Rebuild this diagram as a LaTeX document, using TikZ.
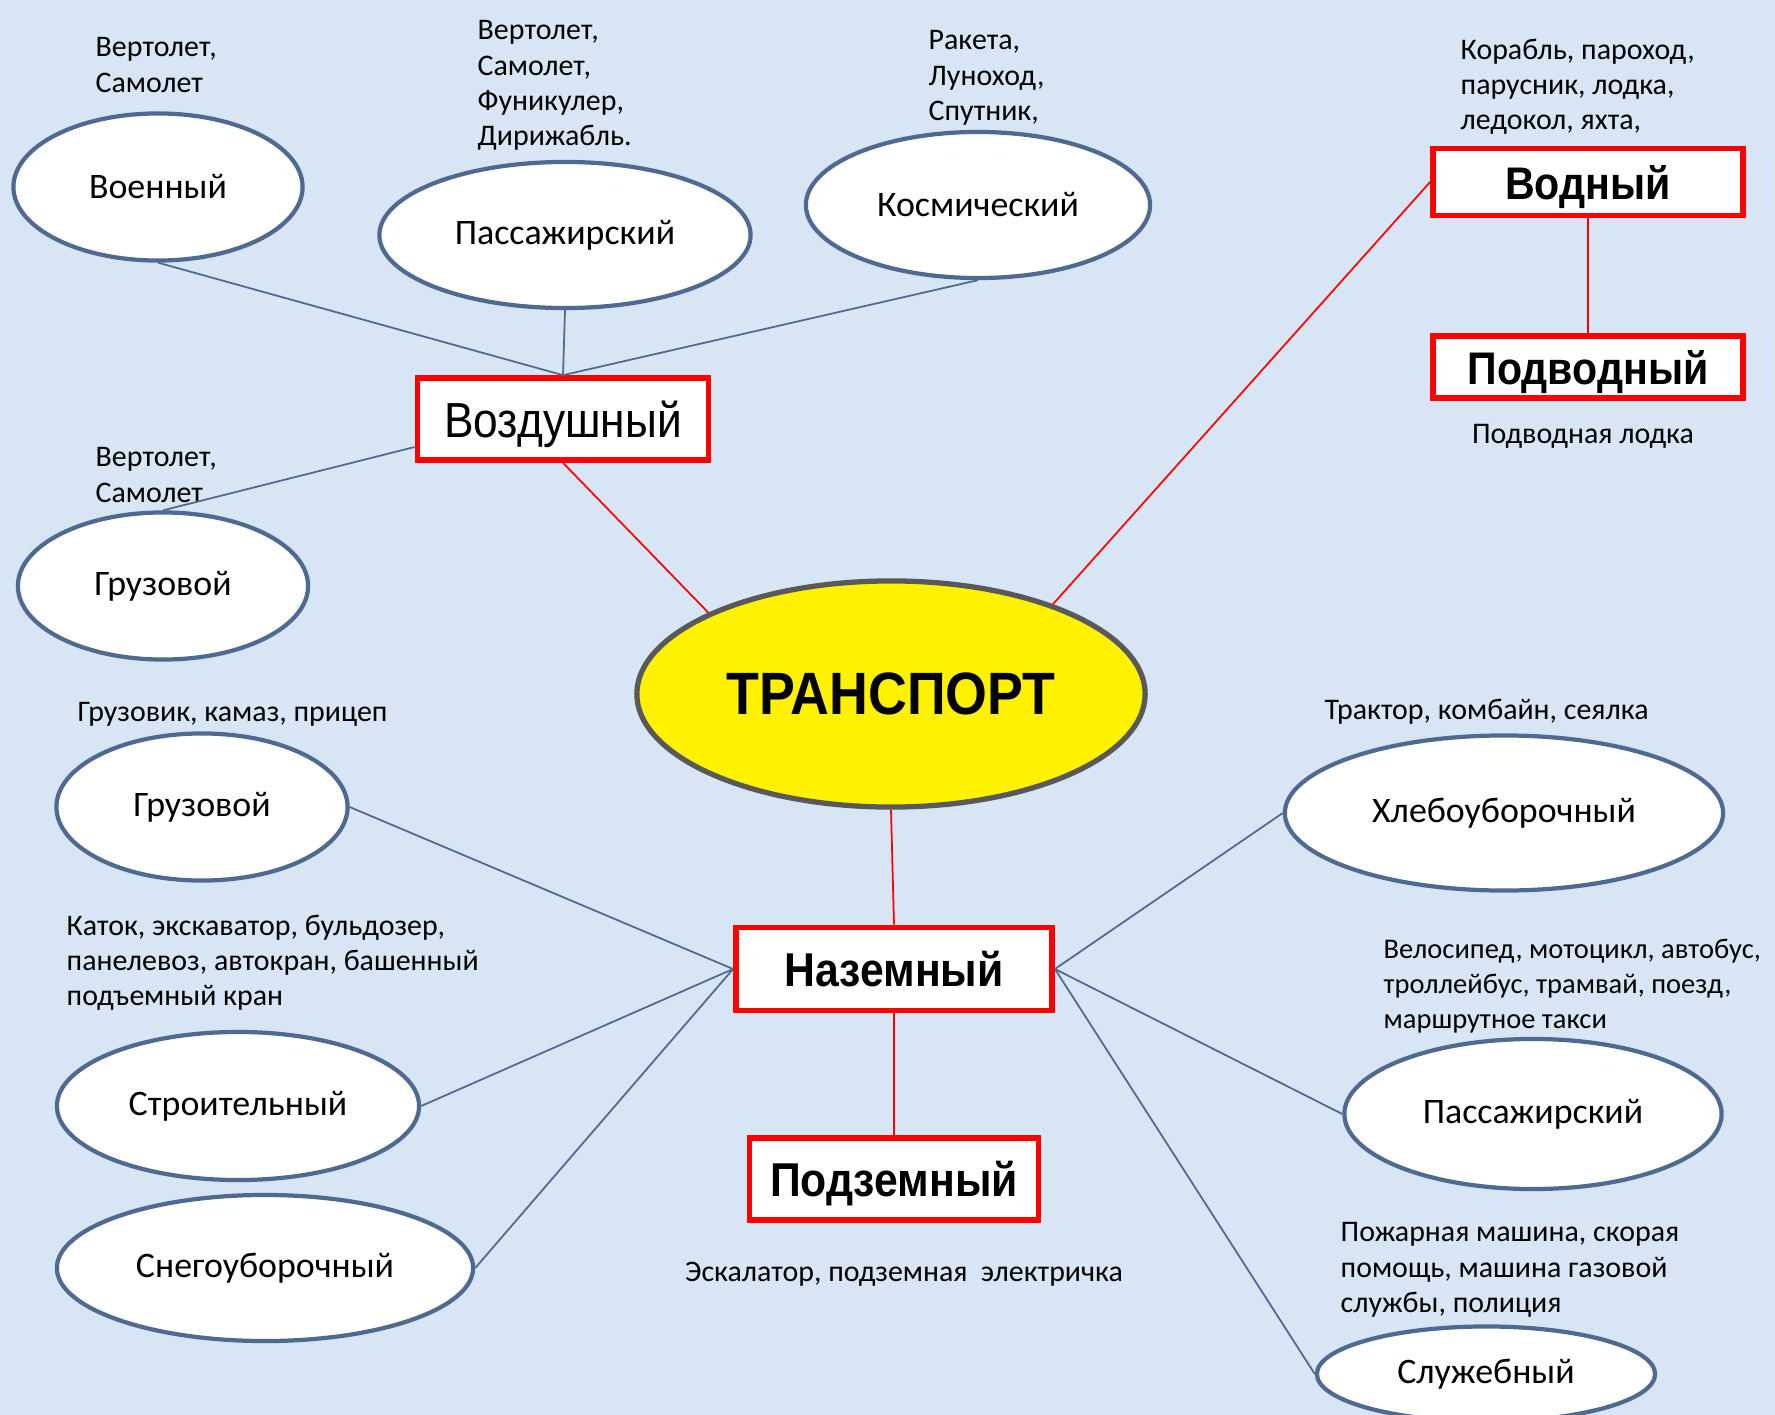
\documentclass[tikz,border=0pt]{standalone}
\usepackage{fontspec}
\setmainfont{Carlito}
\newfontfamily\boxfont[FakeStretch=0.9]{Liberation Sans}
\usetikzlibrary{shapes.geometric}

\definecolor{bgblue}{RGB}{215,229,244}
\definecolor{slate}{RGB}{79,106,145}
\definecolor{rimgray}{RGB}{89,89,89}

\tikzset{
  kind/.style={ellipse, draw=slate, line width=1.2pt, fill=white, inner sep=0pt,
    font=\fontsize{10.2}{12}\selectfont},
  group/.style={rectangle, draw=red, line width=1.6pt, fill=white, inner sep=0pt,
    text depth=0pt, font=\boxfont\bfseries\fontsize{13.5}{15}\selectfont},
  note/.style={anchor=north west, align=left, inner sep=0pt,
    font=\fontsize{8.5}{10}\selectfont},
  branch/.style={slate, line width=0.5pt},
  trunk/.style={red, line width=0.5pt},
}

\begin{document}
\begin{tikzpicture}[x=0.01cm, y=-0.01cm]
    % Background
    \fill[bgblue] (0,0) rectangle (1775,1415);
    \useasboundingbox (0,0) rectangle (1775,1415);

    % Centre
    \node[ellipse, draw=rimgray, line width=1.5pt, fill=yellow,
          minimum width=5.08cm, minimum height=2.26cm,
          font=\boxfont\bfseries\fontsize{17}{19}\selectfont] (trans) at (891,694) {ТРАНСПОРТ};

    % Groups
    \node[group, minimum width=2.91cm, minimum height=0.82cm,
          font=\boxfont\fontsize{14}{16}\selectfont] (vozd) at (563,419) {Воздушный};
    \node[group, minimum width=3.10cm, minimum height=0.67cm,
          font=\boxfont\bfseries\fontsize{13}{15}\selectfont] (vodn) at (1588,182) {Водный};
    \node[group, minimum width=3.10cm, minimum height=0.62cm,
          font=\boxfont\bfseries\fontsize{13}{15}\selectfont] (podv) at (1588,367) {Подводный};
    \node[group, minimum width=3.16cm, minimum height=0.83cm] (nazem) at (894,969) {Наземный};
    \node[group, minimum width=2.89cm, minimum height=0.82cm] (podz) at (894,1179) {Подземный};

    % Air kinds
    \node[kind, minimum width=2.89cm, minimum height=1.47cm] (voen) at (158,187) {Военный};
    \node[kind, minimum width=3.71cm, minimum height=1.46cm] (passair) at (565,235) {Пассажирский};
    \node[kind, minimum width=3.44cm, minimum height=1.46cm] (kosm) at (978,205) {Космический};
    \node[kind, minimum width=2.90cm, minimum height=1.47cm] (gruzair) at (163,586) {Грузовой};

    % Ground kinds
    \node[kind, minimum width=2.91cm, minimum height=1.47cm] (gruzland) at (202,807) {Грузовой};
    \node[kind, minimum width=3.62cm, minimum height=1.48cm] (stroi) at (238,1106) {Строительный};
    \node[kind, minimum width=4.16cm, minimum height=1.46cm] (sneg) at (265,1268) {Снегоуборочный};
    \node[kind, minimum width=4.38cm, minimum height=1.55cm] (hleb) at (1504,813) {Хлебоуборочный};
    \node[kind, minimum width=3.77cm, minimum height=1.50cm] (passland) at (1533,1114) {Пассажирский};
    \node[kind, minimum width=3.38cm, minimum height=0.95cm] (sluzh) at (1486,1374) {Служебный};

    % Examples
    \node[note] (exvoen) at (95,37) {Вертолет,\\Самолет};
    \node[note] (expass) at (477,20) {Вертолет,\\Самолет,\\Фуникулер,\\Дирижабль.};
    \node[note] (exkosm) at (928,30) {Ракета,\\Луноход,\\Спутник,};
    \node[note] (exvodn) at (1460,38) {Корабль, пароход,\\парусник, лодка,\\ледокол, яхта,};
    \node[note, anchor=center] (expodv) at (1583,436) {Подводная лодка};
    \node[note] (exgruzair) at (95,447) {Вертолет,\\Самолет};
    \node[note] (exgruzland) at (77,702) {Грузовик, камаз, прицеп};
    \node[note] (exhleb) at (1324,698) {Трактор, комбайн, сеялка};
    \node[note] (exstroi) at (66,914) {Каток, экскаватор, бульдозер,\\панелевоз, автокран, башенный\\подъемный кран};
    \node[note, font=\fontsize{8.1}{10}\selectfont] (expassland) at (1383,938) {Велосипед, мотоцикл, автобус,\\троллейбус, трамвай, поезд,\\маршрутное такси};
    \node[note, anchor=center] (expodz) at (904,1274) {Эскалатор, подземная \ электричка};
    \node[note] (exsluzh) at (1340,1222) {Пожарная машина, скорая\\помощь, машина газовой\\службы, полиция};

    % Red trunk
    \draw[trunk] (vozd.south) -- (trans.156);
    \draw[trunk] (trans.29) -- (vodn.west);
    \draw[trunk] (vodn.south) -- (podv.north);
    \draw[trunk] (trans.south) -- (nazem.north);
    \draw[trunk] (nazem.south) -- (podz.north);

    % Blue branches
    \draw[branch] (voen.south) -- (vozd.north);
    \draw[branch] (passair.south) -- (vozd.north);
    \draw[branch] (kosm.south) -- (vozd.north);
    \draw[branch] ([yshift=-2.8mm]vozd.west) -- (gruzair.north);
    \draw[branch] (gruzland.east) -- (nazem.west);
    \draw[branch] (stroi.east) -- (nazem.west);
    \draw[branch] (sneg.east) -- (nazem.west);
    \draw[branch] (hleb.west) -- (nazem.east);
    \draw[branch] (passland.west) -- (nazem.east);
    \draw[branch] (sluzh.west) -- (nazem.east);
\end{tikzpicture}
\end{document}
